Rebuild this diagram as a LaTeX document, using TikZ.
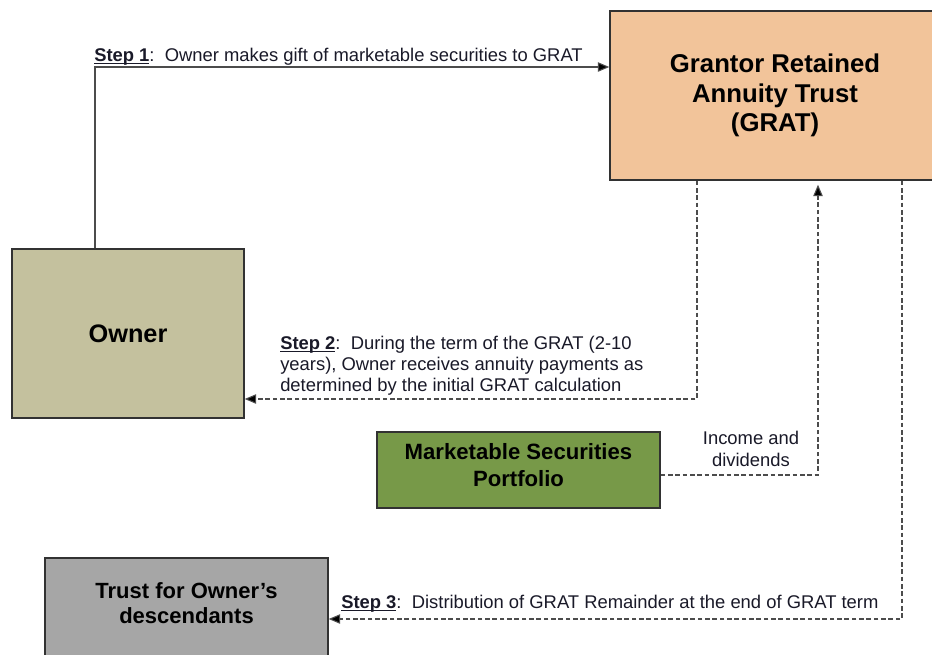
\documentclass[tikz,border=0pt]{standalone}
\usepackage{fontspec}
\setmainfont{Liberation Sans}
\usetikzlibrary{arrows.meta,positioning}

\definecolor{gratpeach}{RGB}{242,196,154}
\definecolor{ownerkhaki}{RGB}{196,193,158}
\definecolor{mktgreen}{RGB}{119,153,72}
\definecolor{trustgrey}{RGB}{166,166,166}
\definecolor{boxline}{RGB}{50,50,50}
\definecolor{textdark}{RGB}{25,25,40}

\tikzset{
	box/.style={draw=boxline, line width=1.1pt, inner sep=0pt, align=center, text=black},
	flow/.style={draw=black!70, line width=0.8pt, -{Triangle[length=8.5pt,width=7pt,fill=black]}},
	dashflow/.style={flow, dash pattern=on 3.5pt off 2pt},
	steptext/.style={inner sep=0pt, text=textdark, font=\fontsize{13.8}{15.75}\selectfont}
}
\newcommand{\steplabel}[1]{\setbox0\hbox{\textbf{Step #1}}\rlap{\rule[-1.6pt]{\wd0}{0.9pt}}\box0}

\begin{document}
\begin{tikzpicture}[x=0.75pt,y=-0.75pt]
	\useasboundingbox (0,0) rectangle (932,654);
	\clip (0,0) rectangle (932,654);
	
	\node[box, fill=gratpeach, minimum width=247.5pt, minimum height=126.75pt,
		font=\fontsize{19.3}{22.1}\selectfont\bfseries] (grat) at (775,95.5)
		{Grantor Retained\\Annuity Trust\\(GRAT)};
	\node[box, fill=ownerkhaki, minimum width=174pt, minimum height=126.75pt,
		font=\fontsize{19}{22}\selectfont\bfseries] (owner) at (128,333.5) {Owner};
	\node[box, fill=mktgreen, minimum width=212.25pt, minimum height=57pt,
		font=\fontsize{16.6}{20.25}\selectfont\bfseries] (mkt) at (518.5,470)
		{Marketable Securities\\Portfolio\\[-12pt]};
	\node[box, fill=trustgrey, minimum width=212.25pt, minimum height=91.5pt] (trust) at (186.5,619) {};
	\node[inner sep=0pt, align=center, font=\fontsize{16.5}{18.75}\selectfont\bfseries] (trusttext) at (186.5,603)
		{Trust for Owner’s\\descendants};
	
	% connectors
	\coordinate (s1) at (95,67);
	\coordinate (s2) at (697,399);
	\coordinate (inc) at (818,475);
	\coordinate (s3) at (902,619);
	\draw[flow] (owner.north -| s1) |- (grat.west |- s1);
	\draw[dashflow] (grat.south -| s2) |- (owner.east |- s2);
	\draw[dashflow, shorten >=3pt] (mkt.east |- inc) -| (grat.south -| inc);
	\draw[dashflow] (grat.south -| s3) |- (trust.east |- s3);
	
	% labels
	\node[steptext, anchor=west] (step1) at (94,57)
		{\steplabel{1}:\ \ Owner makes gift of marketable securities to GRAT};
	\node[steptext, anchor=west, align=left] (step2) at (280,366)
		{\steplabel{2}:\ \ During the term of the GRAT (2-10\\years), Owner receives annuity payments as\\determined by the initial GRAT calculation};
	\node[steptext, align=center, font=\fontsize{13.8}{16.5}\selectfont] (income) at (751,449)
		{Income and\\dividends};
	\node[steptext, anchor=west] (step3) at (341,604)
		{\steplabel{3}:\ \ Distribution of GRAT Remainder at the end of GRAT term};
\end{tikzpicture}
\end{document}
